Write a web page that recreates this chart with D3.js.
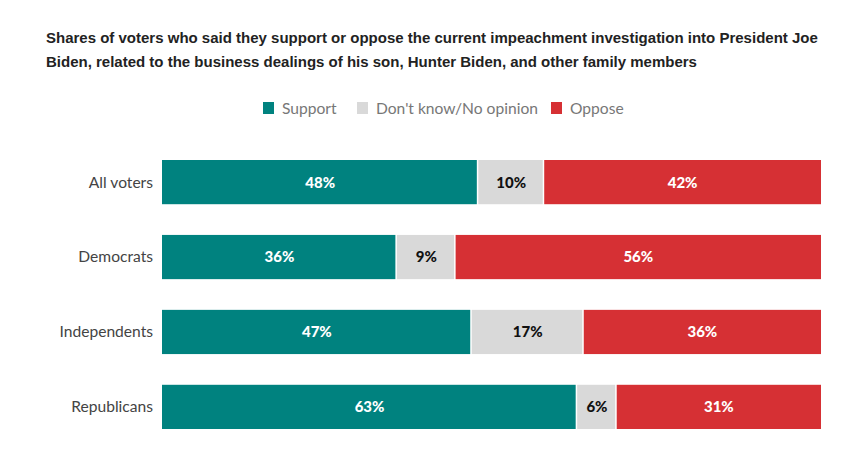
<!DOCTYPE html>
<html><head><meta charset="utf-8">
<script src="https://cdn.jsdelivr.net/npm/d3@7"></script>
<style>body{margin:0;background:#fff}</style>
</head><body>
<svg id="c" width="843" height="452"></svg>
<script>
const categories = ["All voters","Democrats","Independents","Republicans"];
const seriesNames = ["Support","Don't know/No opinion","Oppose"];
const support = [48,36,47,63];
const dontKnow = [10,9,17,6];
const oppose = [42,56,36,31];
const colors = ["#00827f","#d9d9d9","#d63034"];
const labelColors = ["#fff","#111","#fff"];

const svg = d3.select("#c");
const font = "Lato, 'Open Sans', sans-serif";

svg.append("text").attr("x",46).attr("y",43).attr("font-family","'Liberation Sans', Arial, sans-serif")
  .attr("font-size",15).attr("font-weight","bold").attr("fill","#222")
  .text("Shares of voters who said they support or oppose the current impeachment investigation into President Joe");
svg.append("text").attr("x",46).attr("y",67).attr("font-family","'Liberation Sans', Arial, sans-serif")
  .attr("font-size",15).attr("font-weight","bold").attr("fill","#222")
  .text("Biden, related to the business dealings of his son, Hunter Biden, and other family members");

// legend
const legendX = [263,357,551];
const lg = svg.append("g");
seriesNames.forEach((n,i)=>{
  const g = lg.append("g").attr("transform",`translate(${legendX[i]},0)`);
  g.append("rect").attr("x",0).attr("y",102).attr("width",11).attr("height",12).attr("fill",colors[i]);
  g.append("text").attr("x",19).attr("y",113.5).attr("font-family",font).attr("font-size",15.6)
   .attr("fill","#777").text(n);
});

const rows = categories.map((c,i)=>({cat:c, vals:[support[i],dontKnow[i],oppose[i]]}));
const y = d3.scaleBand().domain(categories).range([160,429]).paddingInner(0.41).paddingOuter(0);
const x0 = 162, x1 = 821;

svg.append("g").selectAll("text").data(categories).join("text")
  .attr("x",153).attr("y",d=>y(d)+y.bandwidth()/2).attr("dy","0.35em")
  .attr("text-anchor","end").attr("font-family",font).attr("font-size",15.6).attr("fill","#444")
  .text(d=>d);

rows.forEach(r=>{
  const total = d3.sum(r.vals);
  const x = d3.scaleLinear().domain([0,total]).range([x0,x1]);
  let acc = 0;
  r.vals.forEach((v,j)=>{
    const a = x(acc), b = x(acc+v);
    acc += v;
    svg.append("rect").attr("x",a).attr("y",y(r.cat)).attr("width",Math.max(0,b-a-(j<2?1.5:0)))
      .attr("height",y.bandwidth()).attr("fill",colors[j]);
    svg.append("text").attr("x",(a+b)/2).attr("y",y(r.cat)+y.bandwidth()/2).attr("dy","0.36em")
      .attr("text-anchor","middle").attr("font-family",font).attr("font-weight",900).attr("font-size",15)
      .attr("fill",labelColors[j]).text(v+"%");
  });
});
</script>
</body></html>
